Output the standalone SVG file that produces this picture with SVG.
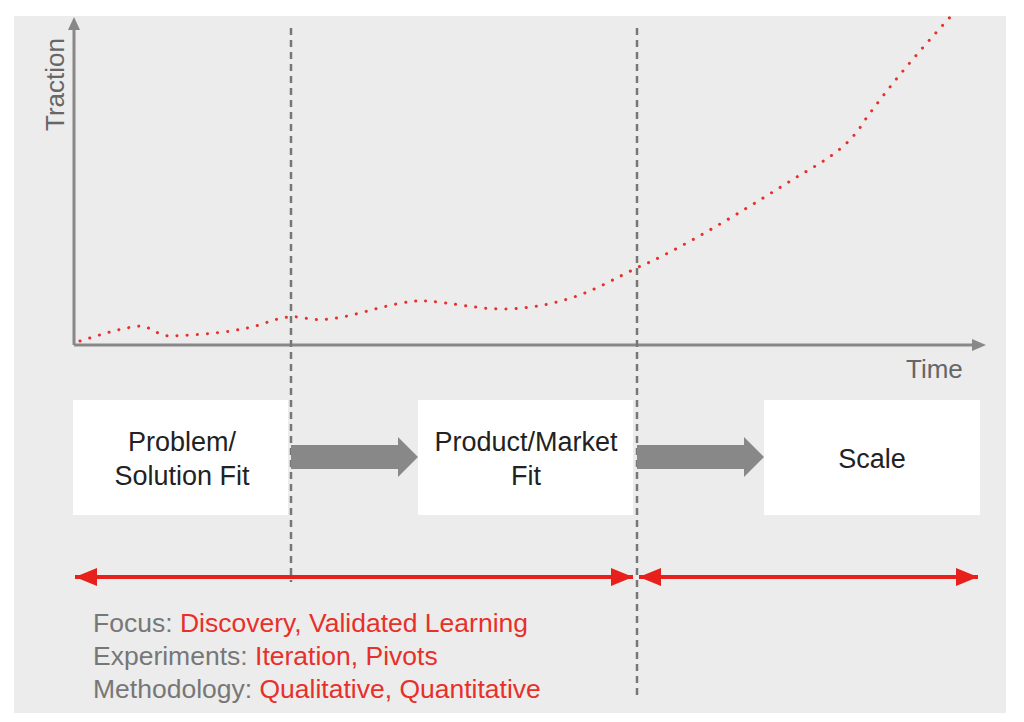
<svg xmlns="http://www.w3.org/2000/svg" width="1024" height="722" viewBox="0 0 1024 722">
<style>
text{font-family:"Liberation Sans",Arial,sans-serif;}
.lbl{font-size:27px;fill:#222;text-anchor:middle}
.ax{fill:#666;font-size:26px}
.ft{font-size:26.5px;fill:#777}
.rd{fill:#e8302b}
.box{fill:#fff}
.dash{stroke:#777;stroke-width:2.5;stroke-dasharray:7,5;fill:none}
</style>
<defs>
<marker id="ra" markerWidth="22" markerHeight="18" refX="22" refY="9" orient="auto-start-reverse" markerUnits="userSpaceOnUse"><path d="M0,0 L22,9 L0,18z" fill="#e8201c"/></marker>
</defs>
<rect x="0" y="0" width="1024" height="722" fill="#fff"/>
<rect x="14" y="16" width="992" height="697" fill="#ececec"/>
<g id="axes">
<path d="M74,345 V22" stroke="#888" stroke-width="3" fill="none"/>
<path d="M68,30 L74,17 L80,30z" fill="#888"/>
<path d="M74,345 H978" stroke="#888" stroke-width="3" fill="none"/>
<path d="M972,339 L986,345 L972,351z" fill="#888"/>
<text class="ax" transform="translate(64,131) rotate(-90)">Traction</text>
<text class="ax" x="906" y="378">Time</text>
</g>
<g id="curve">
<path d="M80,341 C100,335 120,328 140,326 C150,326 155,334 168,336 C200,335 240,332 265,323 C280,318 290,315 305,318 C320,322 340,318 360,313 C390,305 410,300 425,301 C450,302 480,310 510,309 C540,307 560,302 580,295 C610,283 630,270 650,262 C700,238 760,200 800,175 C830,158 850,145 865,120 C890,85 920,50 952,15" stroke="#e8302b" stroke-width="3" stroke-dasharray="0.1,10" stroke-linecap="round" fill="none"/>
</g>
<g id="dividers">
<path class="dash" d="M291,28 V582"/>
<path class="dash" d="M637,28 V700"/>
</g>
<g id="box1"><rect class="box" x="73" y="400" width="215" height="115"/>
<text class="lbl" x="182" y="451">Problem/</text><text class="lbl" x="182" y="485">Solution Fit</text></g>
<g id="box2"><rect class="box" x="418" y="400" width="215" height="115"/>
<text class="lbl" x="526" y="451">Product/Market</text><text class="lbl" x="526" y="485">Fit</text></g>
<g id="box3"><rect class="box" x="764" y="400" width="216" height="115"/>
<text class="lbl" x="872" y="468">Scale</text></g>
<g id="connectors">
<path d="M291,445 H398 V437 L418,457 L398,477 V469 H291z" fill="#888"/>
<path d="M637,445 H744 V437 L764,457 L744,477 V469 H637z" fill="#888"/>
<path d="M75,577 H633" stroke="#e8201c" stroke-width="4" marker-start="url(#ra)" marker-end="url(#ra)"/>
<path d="M639,577 H978" stroke="#e8201c" stroke-width="4" marker-start="url(#ra)" marker-end="url(#ra)"/>
</g>
<g id="notes">
<text class="ft" x="93" y="632">Focus: <tspan class="rd">Discovery, Validated Learning</tspan></text>
<text class="ft" x="93" y="665">Experiments: <tspan class="rd">Iteration, Pivots</tspan></text>
<text class="ft" x="93" y="698">Methodology: <tspan class="rd">Qualitative, Quantitative</tspan></text>
</g>
</svg>
